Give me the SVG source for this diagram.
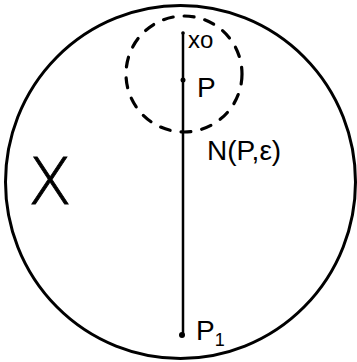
<svg xmlns="http://www.w3.org/2000/svg" width="357" height="362" viewBox="0 0 357 362">
<style>
.ln{fill:none;stroke:#000;stroke-linecap:round}
.t{font-family:"Liberation Sans",Arial,sans-serif;fill:#000}
</style>
<rect width="357" height="362" fill="#fff"/>
<g id="space-X">
<ellipse class="ln" cx="180.5" cy="182" rx="175" ry="176.5" stroke-width="3"/>
<text class="t" x="50" y="204" font-size="64" text-anchor="middle" stroke="#000" stroke-width="0.8" style="font-family:'DejaVu Sans',sans-serif;font-weight:200">X</text>
</g>
<g id="neighborhood">
<circle class="ln" cx="184" cy="74" r="58" stroke-width="3.2" stroke-dasharray="10 11"/>
<text class="t" x="207" y="160" font-size="28">N(P,ε)</text>
</g>
<g id="connectors">
<line class="ln" x1="183" y1="33" x2="183" y2="335" stroke-width="2.5"/>
</g>
<g id="x0">
<circle cx="183" cy="33" r="1.8" fill="#000"/>
<text class="t" x="188" y="48" font-size="24">xo</text>
</g>
<g id="P">
<circle cx="183" cy="80" r="2.5" fill="#000"/>
<text class="t" x="197" y="97" font-size="28">P</text>
</g>
<g id="P1">
<circle cx="182" cy="335" r="3" fill="#000"/>
<text class="t" x="196" y="340" font-size="28">P<tspan font-size="18" dy="6">1</tspan></text>
</g>
</svg>
